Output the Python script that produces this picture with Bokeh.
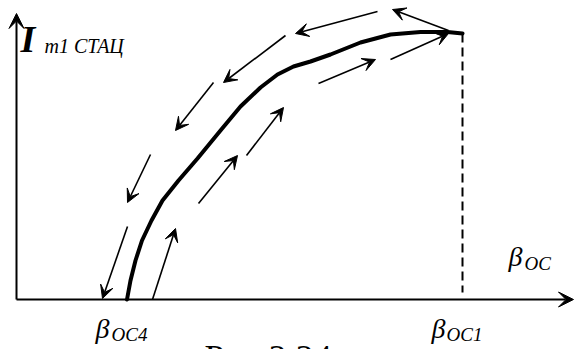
from bokeh.plotting import figure
from bokeh.models import Arrow, VeeHead, Range1d, ColumnDataSource
from bokeh.core.properties import value
from bokeh.embed import file_html
from bokeh.resources import INLINE

# --- data (units: beta_OC along x, I_m1 stat along y; origin at axes crossing) ---
beta = [110.5, 114, 119, 125.5, 135, 146, 162, 181, 204, 224, 244, 261, 277, 294, 314, 344, 374, 404, 431, 446]
i_stat = [0, 19, 39, 59, 79, 99, 119, 141, 169, 193, 212, 225, 233, 238, 245, 257, 265, 267.5, 267.5, 266]

# arrows showing decreasing beta (left of the curve)
down_x0 = [432, 361, 269, 197, 134, 111]
down_y0 = [269, 288, 264, 217, 145, 73]
down_x1 = [376, 279, 207, 159, 111, 86]
down_y1 = [290, 266, 217, 169, 97, 1]

# arrows showing increasing beta (right of the curve)
up_x0 = [136, 182, 230, 302, 374]
up_y0 = [0, 96, 144, 216, 240]
up_x1 = [159, 221, 267, 359, 432]
up_y1 = [71, 144, 192, 240, 266]

beta_oc1 = 446
dash_bottom = 7
axis_x_max = 557
axis_y_max = 286

SERIF = value("Liberation Serif")

p = figure(width=574, height=349,
           x_range=Range1d(-16, 558), y_range=Range1d(-50, 299),
           output_backend="svg", toolbar_location=None,
           x_axis_location=None, y_axis_location=None,
           min_border=0, outline_line_color=None,
           background_fill_color="white", border_fill_color="white")
p.grid.visible = False

# axes with arrow heads
axes_src = ColumnDataSource(dict(x0=[0, 0], y0=[0, 0], x1=[axis_x_max, 0], y1=[0, axis_y_max]))
p.add_layout(Arrow(x_start="x0", y_start="y0", x_end="x1", y_end="y1", source=axes_src,
                   line_width=2, line_color="black",
                   end=VeeHead(size=15, fill_color="black", line_color="black", line_width=1)))

# dashed drop line at beta_OC1
p.line(x=[beta_oc1, beta_oc1], y=[i_stat[-1], dash_bottom], line_color="black",
       line_width=2, line_dash="9 5")

# main characteristic
p.line(x=beta, y=i_stat, line_color="black", line_width=4, line_join="round", line_cap="round")

for xs0, ys0, xs1, ys1 in ((down_x0, down_y0, down_x1, down_y1), (up_x0, up_y0, up_x1, up_y1)):
    src = ColumnDataSource(dict(x0=xs0, y0=ys0, x1=xs1, y1=ys1))
    p.add_layout(Arrow(x_start="x0", y_start="y0", x_end="x1", y_end="y1", source=src,
                       line_width=1.6, line_color="black",
                       end=VeeHead(size=13, fill_color="black", line_color="black", line_width=1)))

# labels (anchored at the top of the text box)
p.text(x=[4], y=[282], text=["I"], text_font=SERIF, text_font_style="bold italic",
       text_font_size="38px", text_baseline="top", text_color="black")
p.text(x=[28], y=[265], text=["m1 СТАЦ"], text_font=SERIF, text_font_style="italic",
       text_font_size="20px", text_baseline="top", text_color="black")

p.text(x=[492, 79, 415], y=[59, -13, -13], text=["β", "β", "β"], text_font=SERIF,
       text_font_style="italic", text_font_size="28px", text_baseline="top", text_color="black")
p.text(x=[508, 95, 430], y=[47, -24, -24], text=["ОС", "ОС4", "ОС1"], text_font=SERIF,
       text_font_style="italic", text_font_size="19px", text_baseline="top", text_color="black")

p.text(x=[188], y=[-38], text=["Рис.2.24"], text_font=SERIF, text_font_size="36px",
       text_baseline="top", text_color="black")

open("out.html", "w").write(file_html(p, INLINE))
